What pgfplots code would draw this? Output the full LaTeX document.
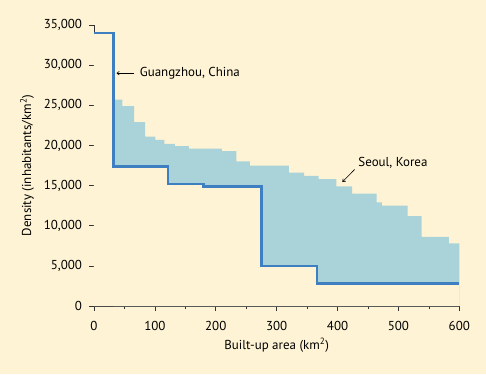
\documentclass[border=0pt]{standalone}
\usepackage{pgfplots}
\pgfplotsset{compat=1.18}
\usetikzlibrary{arrows.meta}
\usepackage{fontspec}
\setmainfont{PT Sans}
\definecolor{bgc}{HTML}{FEF3D4}
\definecolor{gzblue}{HTML}{3D7FC1}
\definecolor{seoulfill}{HTML}{A9D3D9}
\definecolor{axc}{HTML}{333333}
\begin{document}
\begin{tikzpicture}[x=1bp,y=1bp]
\fill[bgc] (-94,-68) rectangle (392,306);
\begin{axis}[
  at={(0,0)}, anchor=south west,
  scale only axis, width=365.3bp, height=281bp,
  xmin=0, xmax=600, ymin=0, ymax=35000,
  axis lines*=left,
  axis line style={axc, line width=0.8pt},
  tick style={axc, line width=0.7pt},
  tick align=outside,
  major tick length=4.5bp, minor tick length=3bp,
  xtick={0,100,...,600}, minor xtick={50,150,...,550},
  ytick={0,5000,...,35000},
  scaled y ticks=false,
  /pgf/number format/1000 sep={,},
  /pgf/number format/assume math mode=true,
  tick label style={font=\fontsize{13}{15}\selectfont, text=black},
  label style={font=\fontsize{13}{15}\selectfont, text=black},
  xticklabel style={yshift=-7bp},
  yticklabel style={xshift=-4bp},
  xlabel={Built-up area (km\textsuperscript{2})},
  ylabel={Density (inhabitants/km\textsuperscript{2})},
  xlabel style={yshift=-1bp},
  ylabel style={yshift=3bp},
  clip=false,
]
% Seoul area
\addplot[const plot mark left, draw=none, fill=seoulfill] coordinates {
 (32,0) (32,25700) (46.5,24900) (66,22900) (84,21100) (101,20700) (115.5,20200)
 (133,19900) (156,19600) (210,19300) (234,18000) (256,17500) (320,16600)
 (345,16200) (369,15800) (398,14900) (424,14000) (464,12900) (473,12500)
 (515,11200) (538,8600) (583,7800) (600,7800) (600,0)
} \closedcycle;
% mask below Guangzhou
\addplot[const plot mark left, draw=none, fill=bgc] coordinates {
 (0,34000) (32,17400) (122,15200) (180,14900) (275,5000) (366,2800) (600,2800)
} \closedcycle;
% Guangzhou line
\addplot[const plot mark left, draw=gzblue, line width=2.4bp] coordinates {
 (0,34000) (32,17400) (122,15200) (180,14900) (275,5000) (366,2800) (600,2800)
};
\draw[-{To[length=3bp,width=4bp]}, black, line width=0.6pt] (axis cs:66,29000) -- (axis cs:37,29000);
\node[anchor=west, inner sep=0pt, font=\fontsize{13}{15}\selectfont] at (axis cs:75,29000) {Guangzhou, China};
\draw[-{To[length=3bp,width=4bp]}, black, line width=0.6pt] (axis cs:428,17000) -- (axis cs:408,15450);
\node[anchor=west, inner sep=0pt, font=\fontsize{13}{15}\selectfont] at (axis cs:434,17800) {Seoul, Korea};
\end{axis}
\end{tikzpicture}
\end{document}
